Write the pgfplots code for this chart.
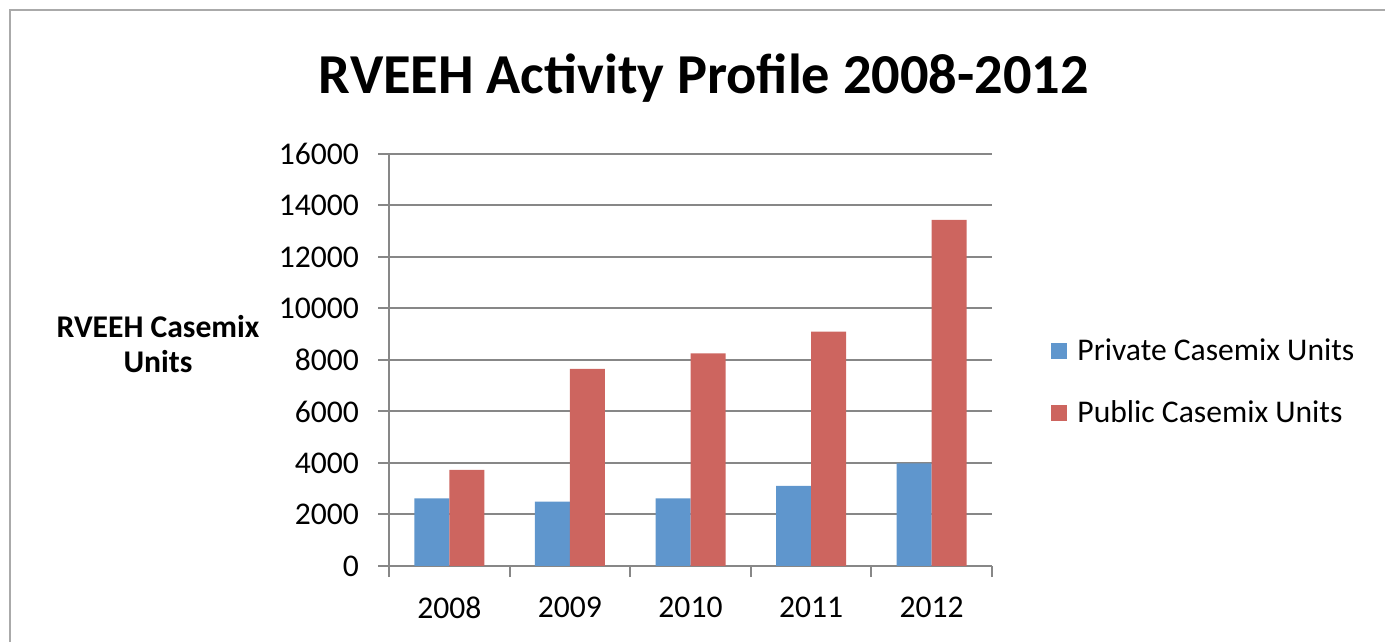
\documentclass[border=0pt]{standalone}
\usepackage{pgfplots}
\pgfplotsset{compat=1.18}
\usepackage{fontspec}
\setmainfont{Carlito}
\definecolor{privc}{RGB}{95,150,205}
\definecolor{pubc}{RGB}{205,101,95}
\definecolor{gridc}{RGB}{135,135,135}
\definecolor{framec}{RGB}{170,170,170}

\begin{document}
\begin{tikzpicture}
\useasboundingbox (0,0) rectangle (692.5pt,321pt);
\draw[framec, line width=1pt] (5pt,0) -- (5pt,316pt) -- (692.5pt,316pt);
\node[font=\bfseries\fontsize{28.2}{32}\selectfont] at (352pt,282pt) {RVEEH Activity Profile 2008-2012};
\begin{axis}[
    at={(194.5pt,38pt)}, anchor=south west,
    scale only axis, width=301.5pt, height=206pt,
    ybar=0pt, bar width=17.5pt,
    xmin=-0.5, xmax=4.5, ymin=0, ymax=16000,
    xtick={-0.5,0.5,1.5,2.5,3.5,4.5}, xticklabels={,,,,,},
    extra x ticks={0,1,2,3,4},
    extra x tick labels={2008,2009,2010,2011,2012},
    extra x tick style={major tick length=0pt, xticklabel style={yshift=-12pt}},
    ytick={0,2000,...,16000},
    yticklabel style={xshift=-6pt},
    scaled y ticks=false,
    /pgf/number format/1000 sep={},
    /pgf/number format/assume math mode=true,
    tick label style={font=\fontsize{15.8}{18}\selectfont},
    ymajorgrids, grid style={gridc, line width=1pt},
    axis x line*=bottom, axis y line*=left,
    axis line style={gridc, line width=1pt, -},
    tick align=outside, major tick length=5.5pt,
    tick style={gridc, line width=1pt},
    ylabel={RVEEH Casemix\\Units},
    ylabel style={rotate=-90, align=center, font=\bfseries\fontsize{15.8}{17.5}\selectfont,
        at={(rel axis cs:-0.383,0.539)}, anchor=center},
    legend style={at={(1.088,0.447)}, anchor=west, draw=none, fill=none,
        font=\fontsize{15.8}{18}\selectfont, row sep=14.5pt,
        nodes={inner xsep=5pt}},
    legend cell align=left,
    legend image code/.code={\fill[#1] (0pt,-4pt) rectangle (8pt,4pt);},
]
\addplot[fill=privc, draw=none] coordinates {(0,2630) (1,2500) (2,2630) (3,3110) (4,3990)};
\addlegendentry{Private Casemix Units}
\addplot[fill=pubc, draw=none] coordinates {(0,3730) (1,7660) (2,8260) (3,9100) (4,13440)};
\addlegendentry{Public Casemix Units}
\end{axis}
\end{tikzpicture}
\end{document}
